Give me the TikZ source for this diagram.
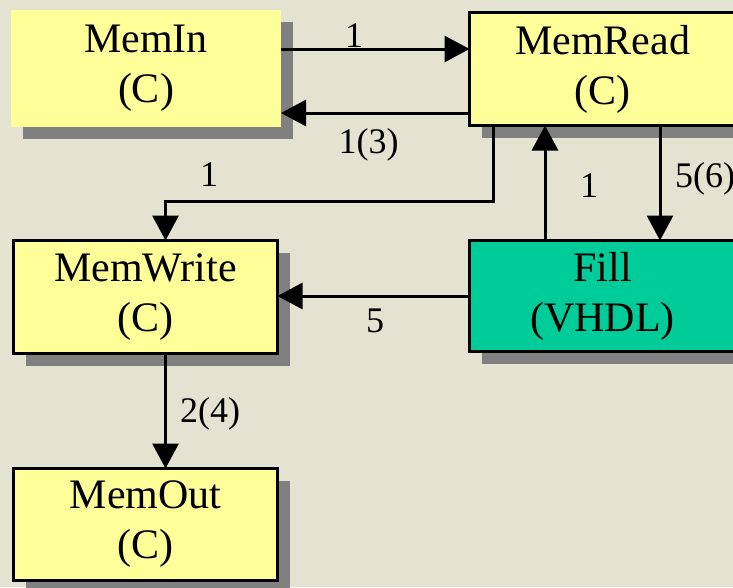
\documentclass[tikz,border=0pt]{standalone}
\usepackage{fontspec}
\setmainfont{Liberation Serif}
\usetikzlibrary{arrows.meta,shadows}

\definecolor{pagebg}{RGB}{228,227,209}
\definecolor{boxyellow}{RGB}{255,255,153}
\definecolor{boxteal}{RGB}{0,204,153}
\definecolor{shadowgray}{RGB}{128,128,128}

\begin{document}
\begin{tikzpicture}[x=1pt,y=-1pt,
  block/.style={rectangle, inner sep=0pt, outer sep=0pt, align=center,
    minimum width=266pt, minimum height=113pt,
    font=\fontsize{42}{50}\selectfont,
    general shadow={fill=shadowgray, shadow xshift=12pt, shadow yshift=-12pt}},
  cblock/.style={block, draw=black, line width=3pt, fill=boxyellow},
  vblock/.style={block, draw=black, line width=3pt, fill=boxteal},
  plainblock/.style={block, fill=boxyellow, minimum width=270pt, minimum height=117pt},
  arr/.style={-{Triangle[width=26pt,length=25pt]}, line width=3pt, draw=black},
  lbl/.style={anchor=base, inner sep=0pt, font=\fontsize{36}{43}\selectfont}]

  % page and background
  \useasboundingbox (0,0) rectangle (733,587);
  \clip (0,0) rectangle (733,587);
  \fill[pagebg] (0,0) rectangle (733,587);

  % modules
  \node[plainblock] (memin)    at (146,68.5)   {MemIn\\(C)};
  \node[cblock]     (memread)  at (602.5,69)   {MemRead\\(C)};
  \node[cblock, minimum width=264pt] (memwrite) at (145.5,297) {MemWrite\\(C)};
  \node[vblock, minimum height=111pt] (fill) at (602.5,296) {Fill\\(VHDL)};
  \node[cblock, minimum width=264pt, minimum height=112pt] (memout) at (145.5,524.5) {MemOut\\(C)};

  % MemIn <-> MemRead
  \coordinate (inTop) at ([yshift=19.5pt]memin.east);
  \coordinate (inLow) at ([yshift=-44.5pt]memin.east);
  \draw[arr] (inTop) -- (inTop -| memread.west);
  \draw[arr] (inLow -| memread.west) -- (inLow);

  % MemRead -> MemWrite
  \coordinate (turn) at (493,201);
  \draw[arr] (memread.south -| turn) -- (turn) -| ([xshift=20pt]memwrite.north);

  % MemRead <-> Fill
  \draw[arr] ([xshift=-57.5pt]fill.north) -- ([xshift=-57.5pt]memread.south);
  \draw[arr] ([xshift=57.5pt]memread.south) -- ([xshift=57.5pt]fill.north);

  % Fill -> MemWrite
  \draw[arr] (fill.west) -- (fill.west -| memwrite.east);

  % MemWrite -> MemOut
  \draw[arr] ([xshift=20pt]memwrite.south) -- ([xshift=20pt]memout.north);

  % connector labels
  \node[lbl] (lbA) at (354,47) {1};
  \node[lbl] (lbB) at (368.5,153) {1(3)};
  \node[lbl] (lbC) at (209,186) {1};
  \node[lbl] (lbD) at (589,197) {1};
  \node[lbl, anchor=base west] (lbE) at (675,187) {5(6)};
  \node[lbl] (lbF) at (375,332) {5};
  \node[lbl] (lbG) at (210,422) {2(4)};
\end{tikzpicture}
\end{document}
